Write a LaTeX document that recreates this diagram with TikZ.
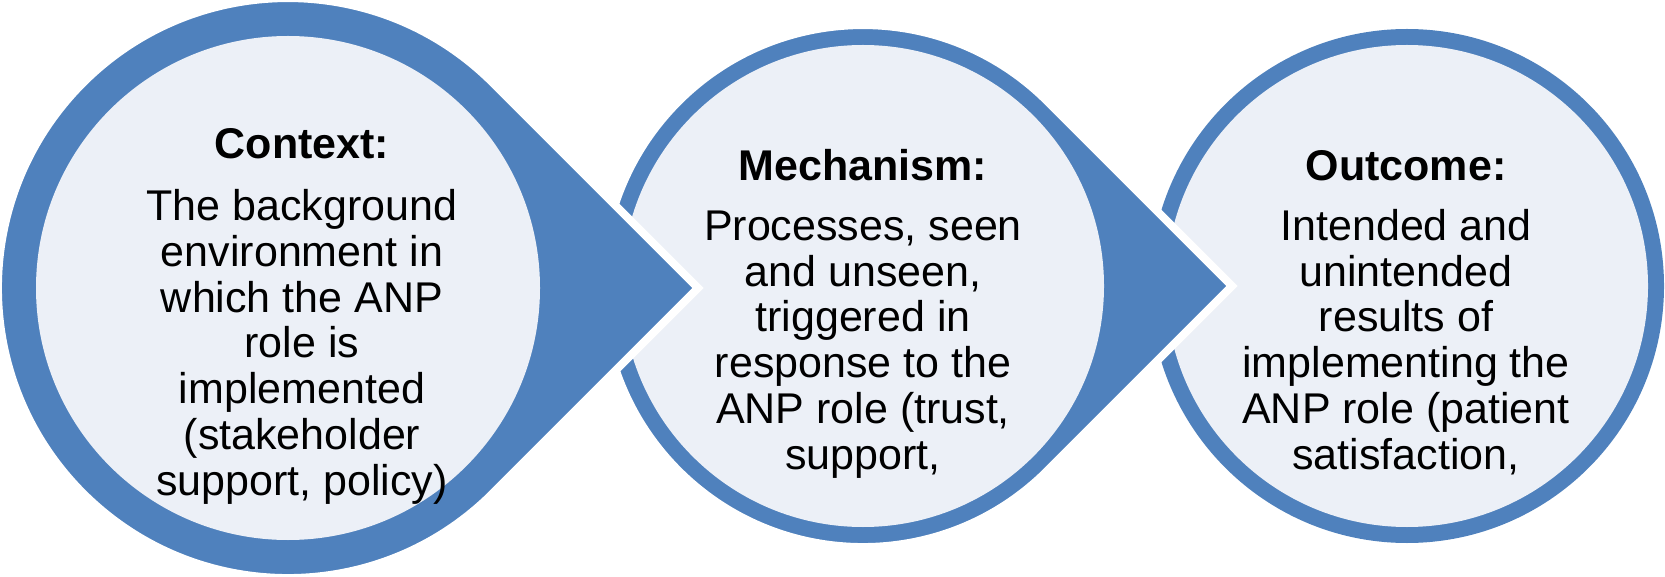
\documentclass[tikz,border=0pt]{standalone}
\usepackage{fontspec}
\setmainfont{Liberation Sans}
\usetikzlibrary{positioning}
\definecolor{anpblue}{RGB}{79,129,189}
\definecolor{anplight}{RGB}{236,240,247}

\begin{document}
\begin{tikzpicture}[
  x=1pt, y=1pt,
  drop/.style={fill=anpblue, draw=white, line width=8pt, line join=miter},
  ring/.style={circle, fill=anpblue, inner sep=0pt, outer sep=0pt},
  disc/.style={circle, fill=anplight, inner sep=0pt, outer sep=0pt},
  txt/.style={align=center, anchor=base, inner sep=0pt,
              font=\fontsize{43}{45.7}\selectfont}
]
\useasboundingbox (0,0) rectangle (1665,-577);

% outcome circle at the bottom of the stack
\node[ring, minimum size=514pt] (outring) at (1407,-286) {};
\node[disc, minimum size=482pt] (outdisc) at (outring.center) {};

% mechanism drop, its point lies over the outcome circle
\coordinate (mechc) at (863,-286);
\draw[drop] (mechc) ++(369,0) coordinate (mechtip)
  -- ++(-184.5,184.5) arc[start angle=45, end angle=315, radius=261] -- cycle;
\node[disc, minimum size=482pt] (mechdisc) at (mechc) {};

% context drop on top
\coordinate (ctxc) at (288,-288);
\draw[drop] (ctxc) ++(410,0) coordinate (ctxtip)
  -- ++(-205,205) arc[start angle=45, end angle=315, radius=290] -- cycle;
\node[disc, minimum size=504pt] (ctxdisc) at (ctxc) {};

% base anchor sits on the last line
\node[txt] (ctxtext) at (302,-495) {%
  \textbf{Context:}\\[17pt]
  The background\\ environment in\\ which the ANP\\ role is\\
  implemented\\ (stakeholder\\ support, policy)};
\node[txt] (mechtext) at (863,-469) {%
  \textbf{Mechanism:}\\[14pt]
  Processes, seen\\ and unseen,\\ triggered in\\ response to the\\
  ANP role (trust,\\ support,};
\node[txt] (outtext) at (1406,-469) {%
  \textbf{Outcome:}\\[14pt]
  Intended and\\ unintended\\ results of\\ implementing the\\
  ANP role (patient\\ satisfaction,};
\end{tikzpicture}
\end{document}
